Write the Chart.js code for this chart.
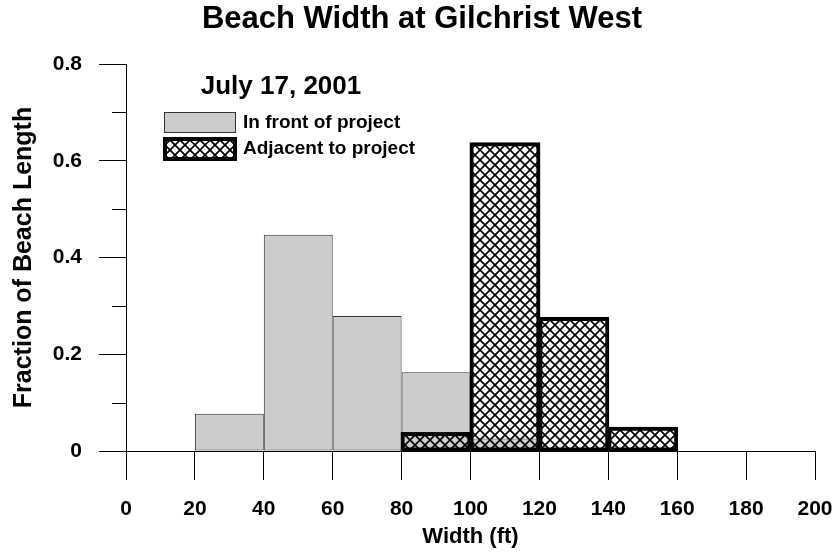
<!DOCTYPE html>
<html>
<head>
<meta charset="utf-8">
<script src="https://cdn.jsdelivr.net/npm/chart.js@4"></script>
<style>
    body { margin: 0; background: #fff; }
</style>
</head>
<body>
<canvas id="grafica" width="839" height="556"></canvas>
<script>
const binStart = [20, 40, 60, 80, 100, 120, 140];
const binWidth = 20;
const inFront = [0.077, 0.447, 0.279, 0.163, 0.026, null, null];
const adjacent = [null, null, null, 0.037, 0.636, 0.275, 0.048];
const seriesNames = ['In front of project', 'Adjacent to project'];
const xTicks = [0, 20, 40, 60, 80, 100, 120, 140, 160, 180, 200];
const yTicks = [0, 0.2, 0.4, 0.6, 0.8];
const yMinorTicks = [0.1, 0.3, 0.5, 0.7];
const chartTitle = 'Beach Width at Gilchrist West';
const dateLabel = 'July 17, 2001';

const FONT = '"Liberation Sans", Arial, Helvetica, sans-serif';

document.addEventListener('DOMContentLoaded', () => {
    const canvas = document.getElementById('grafica');
    const ctx = canvas.getContext('2d');

    // cross hatch, transparent background
    function crearTrama() {
        const c = document.createElement('canvas');
        c.width = 10; c.height = 10;
        const g = c.getContext('2d');
        g.strokeStyle = '#000';
        g.lineWidth = 1.7;
        g.beginPath();
        g.moveTo(-1, -1); g.lineTo(11, 11);
        g.moveTo(-1, 11); g.lineTo(11, -1);
        g.stroke();
        return ctx.createPattern(c, 'repeat');
    }
    const trama = crearTrama();

    const toPoints = vals => binStart.map((b, i) => ({ x: b + binWidth / 2, y: vals[i] }));

    const decoracion = {
        id: 'decoracion',
        afterDraw(chart) {
            const c = chart.ctx;
            const area = chart.chartArea;
            const yScale = chart.scales.y;
            c.save();
            // minor ticks on y axis
            c.strokeStyle = '#000';
            c.lineWidth = 1;
            yMinorTicks.forEach(v => {
                const y = Math.round(yScale.getPixelForValue(v)) + 0.5;
                c.beginPath();
                c.moveTo(area.left - 14, y);
                c.lineTo(area.left, y);
                c.stroke();
            });

            c.fillStyle = '#000';
            c.textBaseline = 'middle';
            c.textAlign = 'center';
            c.font = 'bold 31px ' + FONT;
            c.fillText(chartTitle, 422, 19);
            c.font = 'bold 26px ' + FONT;
            c.fillText(dateLabel, 281, 87);

            // legend
            const ds = chart.data.datasets;
            c.fillStyle = ds[0].backgroundColor;
            c.fillRect(164, 112, 72, 21);
            c.strokeStyle = '#333';
            c.lineWidth = 1;
            c.strokeRect(164.5, 112.5, 71, 20);
            c.fillStyle = ds[1].backgroundColor;
            c.fillRect(164, 138, 72, 22);
            c.lineWidth = 4;
            c.strokeStyle = '#000';
            c.strokeRect(165, 139, 70, 20);

            c.fillStyle = '#000';
            c.textAlign = 'left';
            c.font = 'bold 19px ' + FONT;
            c.fillText(ds[0].label, 243, 123);
            c.fillText(ds[1].label, 243, 149);
            c.restore();
        }
    };

    new Chart(ctx, {
        type: 'bar',
        data: {
            datasets: [{
                label: seriesNames[0],
                data: toPoints(inFront),
                backgroundColor: '#cccccc',
                borderColor: '#333333',
                borderWidth: 1,
                inflateAmount: 0,
                borderSkipped: false,
                grouped: false,
                barPercentage: 1,
                categoryPercentage: 1,
                order: 2,
                clip: 8
            }, {
                label: seriesNames[1],
                data: toPoints(adjacent),
                backgroundColor: trama,
                borderColor: '#000000',
                borderWidth: 2,
                inflateAmount: 1,
                borderSkipped: false,
                grouped: false,
                barPercentage: 1,
                categoryPercentage: 1,
                order: 1,
                clip: 8
            }]
        },
        options: {
            responsive: false,
            animation: false,
            events: [],
            layout: { padding: { top: 64, right: 0, left: 0, bottom: 0 } },
            plugins: {
                legend: { display: false },
                title: { display: false },
                tooltip: { enabled: false }
            },
            scales: {
                x: {
                    type: 'linear',
                    min: 0,
                    max: 200,
                    offset: false,
                    afterBuildTicks: s => { s.ticks = xTicks.map(v => ({ value: v })); },
                    afterFit: s => {
                        s.height = 105;
                        s.paddingLeft = 0;
                        s.paddingRight = 24;
                    },
                    grid: { offset: false, drawOnChartArea: false, tickLength: 29, color: '#000', lineWidth: 1 },
                    border: { display: true, color: '#000', width: 1 },
                    ticks: {
                        padding: 17,
                        color: '#000',
                        maxRotation: 0,
                        autoSkip: false,
                        font: { family: FONT, size: 21, weight: 'bold' },
                        callback: v => String(v)
                    },
                    title: {
                        display: true,
                        text: 'Width (ft)',
                        color: '#000',
                        font: { family: FONT, size: 22, weight: 'bold' },
                        padding: { top: 0, bottom: 6 }
                    }
                },
                y: {
                    min: 0,
                    max: 0.8,
                    afterBuildTicks: s => { s.ticks = yTicks.map(v => ({ value: v })); },
                    afterFit: s => { s.width = 126; },
                    grid: { drawOnChartArea: false, tickLength: 27, color: '#000', lineWidth: 1 },
                    border: { display: true, color: '#000', width: 1 },
                    ticks: {
                        padding: 17,
                        color: '#000',
                        font: { family: FONT, size: 21, weight: 'bold' },
                        callback: v => String(Math.round(v * 10) / 10)
                    },
                    title: {
                        display: true,
                        text: 'Fraction of Beach Length',
                        color: '#000',
                        font: { family: FONT, size: 25, weight: 'bold' },
                        padding: { top: 9, bottom: 0 }
                    }
                }
            }
        },
        plugins: [decoracion]
    });
});
</script>
</body>
</html>
